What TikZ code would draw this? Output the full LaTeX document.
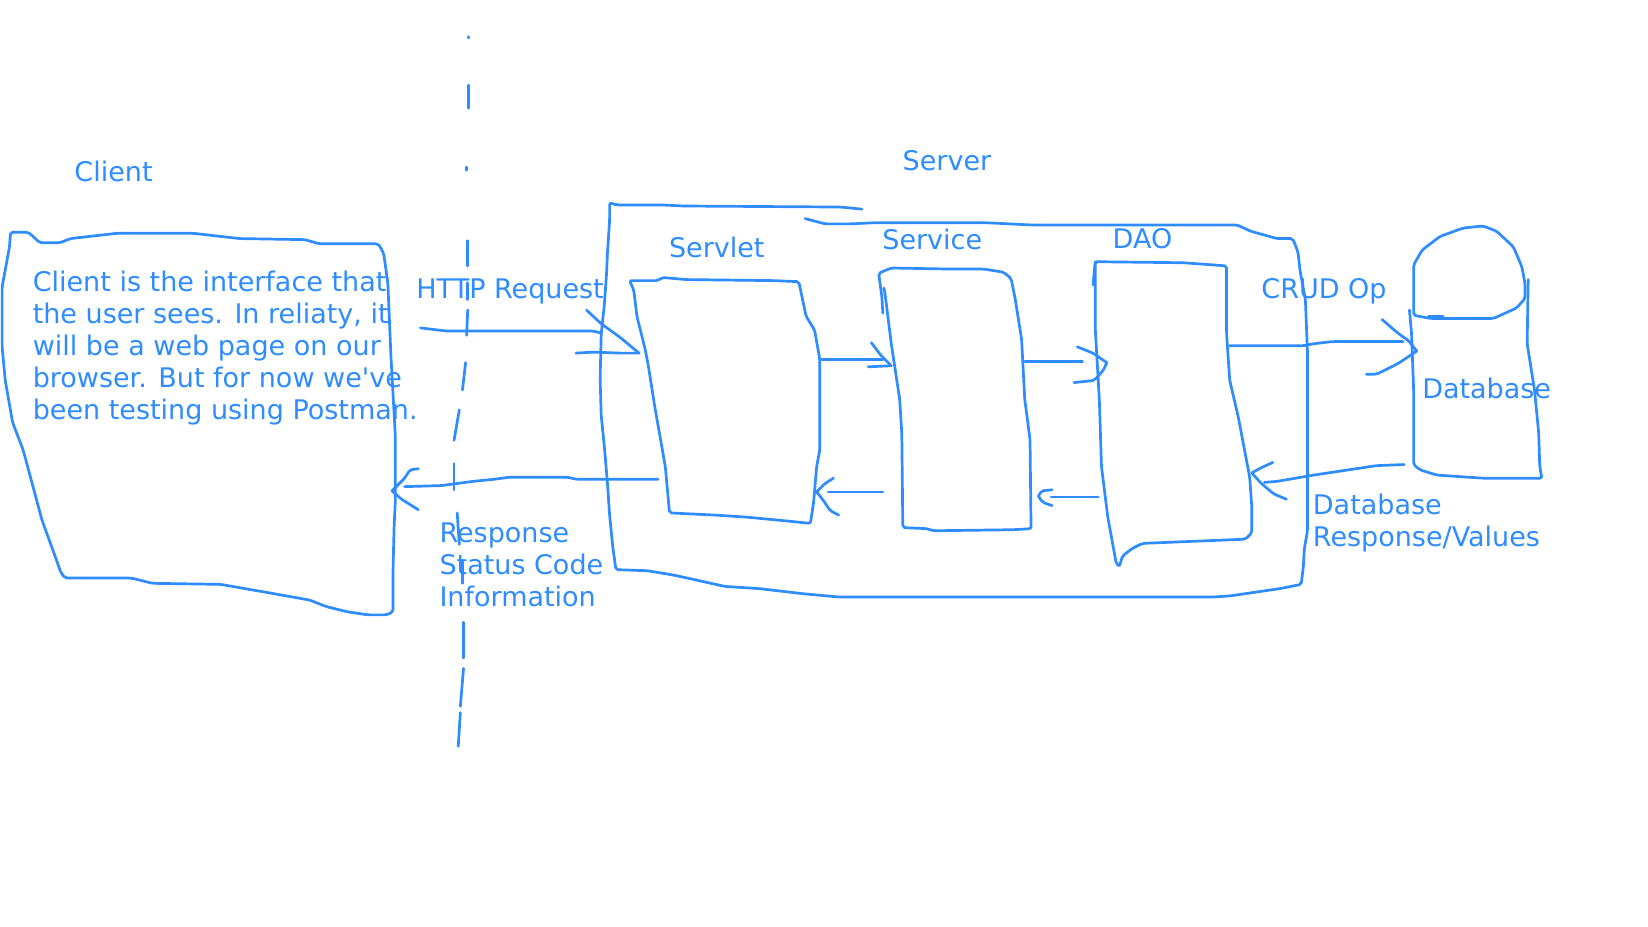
\documentclass[tikz,border=0pt]{standalone}
\usepackage{fontspec}
\setmainfont{DejaVu Sans}
\usepackage{tikz}
\usetikzlibrary{positioning}

\definecolor{penblue}{RGB}{46,140,255}
\tikzset{
	pen/.style={penblue, line width=2.7pt, line cap=round, line join=round, rounded corners=2pt},
	ink/.style={text=penblue, font=\fontsize{27}{32}\selectfont, inner sep=0pt, align=left}
}

\begin{document}
\begin{tikzpicture}[x=1.051pt, y=-1.051pt]
	\useasboundingbox (0,0) rectangle (1568,882);

	% labels
	\node[ink]	(client)	at	(108,163)	{Client};
	\node[ink]	(server)	at	(901,153)	{Server};
	\node[ink]	(servlet)	at	(682,235)	{Servlet};
	\node[ink]	(service)	at	(887,228)	{Service};
	\node[ink]	(dao)		at	(1087,227)	{DAO};
	\node[ink, anchor=west]	(note)		at	(31,331)	{Client is the interface that\\the user sees. In reliaty, it\\will be a web page on our\\browser. But for now we\textquotesingle ve\\been testing using Postman.};
	\node[ink, anchor=west]	(http)		at	(396,277)	{HTTP Request};
	\node[ink, anchor=west]	(resp)		at	(418,537)	{Response\\Status Code\\Information};
	\node[ink, anchor=west]	(crud)		at	(1200,277)	{CRUD Op};
	\node[ink, anchor=west]	(database)	at	(1353,370)	{Database};
	\node[ink, anchor=west]	(dbresp)	at	(1249,498)	{Database\\Response/Values};

	% client / server split
	\foreach \xa/\ya/\xb/\yb in {446/35/446/36, 446/81/446/103, 444/159/444/162, 445/229/445/253,
		445/269/445/285, 445/295/444/319, 443/345/440/371, 437/390/432/419, 432/441/432/466,
		435/488/437/518, 440/533/440/555, 441/592/441/626, 441/636/438/672, 438/678/436/710}
		\draw[pen] (\xa,\ya) -- (\xb,\yb);

	% client window
	\draw[pen] (10,221) -- (27,221) -- (38,231) -- (57,231) -- (67,227) -- (111,222) -- (184,222)
		-- (228,227) -- (290,228) -- (304,232) -- (360,232) -- (365,241) -- (369,269) -- (372,340)
		-- (376,412) -- (376,480) -- (375,500) -- (374,540) -- (374,582) -- (368,585) -- (350,585)
		-- (330,582) -- (310,577) -- (295,571) -- (250,563) -- (210,556) -- (145,555) -- (125,550)
		-- (62,550) -- (58,545) -- (52,528) -- (40,495) -- (22,428) -- (12,402) -- (5,362)
		-- (2,330) -- (2,273) -- (9,235) -- cycle;

	% server
	\draw[pen] (820,199) -- (800,197) -- (650,196) -- (630,195) -- (587,195) -- (580,193) -- (580,210)
		-- (578,240) -- (577,262) -- (575,290) -- (572,318) -- (571,360) -- (572,395) -- (575,425)
		-- (578,460) -- (580,490) -- (583,520) -- (586,542) -- (616,543) -- (640,547) -- (654,550)
		-- (690,558) -- (722,560) -- (765,565) -- (798,568) -- (1155,568) -- (1170,567) -- (1218,560)
		-- (1238,556) -- (1240,540) -- (1241,522) -- (1244,505) -- (1244,335) -- (1242,285)
		-- (1237,258) -- (1235,240) -- (1230,227) -- (1215,227) -- (1190,220) -- (1177,214)
		-- (980,214) -- (940,212) -- (830,212) -- (810,213) -- (785,213) -- (766,208);

	% servlet
	\draw[pen] (599,267) -- (626,267) -- (630,264) -- (653,266) -- (736,267) -- (760,268) -- (767,301)
		-- (775,314) -- (780,342) -- (780,428) -- (777,444) -- (774,479) -- (771,498) -- (752,496)
		-- (710,492) -- (679,490) -- (637,488) -- (633,444) -- (623,387) -- (617,349) -- (614,333)
		-- (606,301) -- (603,276) -- cycle;

	% service
	\draw[pen] (840,298) -- (839,282) -- (836,260) -- (848,255) -- (904,256) -- (936,256) -- (955,259)
		-- (962,265) -- (966,285) -- (972,323) -- (975,380) -- (980,418) -- (981,503) -- (964,504)
		-- (888,505) -- (882,503) -- (859,502) -- (858,412) -- (856,380) -- (848,327) -- (842,279)
		-- (841,274);

	% dao
	\draw[pen] (1040,271) -- (1042,249) -- (1126,250) -- (1167,253) -- (1167,317) -- (1170,362)
		-- (1178,396) -- (1189,454) -- (1191,482) -- (1191,507) -- (1185,513) -- (1087,517)
		-- (1077,522) -- (1068,529) -- (1065,539) -- (1062,536) -- (1054,492) -- (1048,444)
		-- (1046,381) -- (1042,311) -- (1042,249);

	% database
	\draw[pen] (1345,300) -- (1345,252) -- (1353,238) -- (1370,225) -- (1392,217) -- (1411,215)
		-- (1424,220) -- (1440,235) -- (1448,254) -- (1451,270) -- (1451,284) -- (1443,293)
		-- (1421,303) -- (1361,303) -- cycle;
	\draw[pen] (1359,301) -- (1373,301);
	\draw[pen] (1454,266) -- (1453,327) -- (1460,371) -- (1464,412) -- (1465,444) -- (1467,455)
		-- (1411,455) -- (1367,452) -- (1351,447) -- (1345,442) -- (1345,371) -- (1343,317)
		-- (1341,295);

	% arrow tips
	\coordinate (reqtip)	at	(608,336);
	\coordinate (svctip)	at	(848,348);
	\coordinate (daotip)	at	(1053,345);
	\coordinate (dbtip)		at	(1348,334);
	\coordinate (valtip)	at	(1191,450);
	\coordinate (backtip)	at	(988,472);
	\coordinate (rettip)	at	(777,468);
	\coordinate (resptip)	at	(373,467);

	% request path
	\draw[pen] (400,312) -- (425,315) -- (565,315) -- (572,317);
	\draw[pen] (reqtip) -- ++(-18,-15) -- ++(-18,-13) -- ++(-14,-13);
	\draw[pen] (reqtip) -- ++(-18,0) -- ++(-25,-1) -- ++(-17,1);

	\draw[pen] (782,342) -- (840,342);
	\draw[pen] (svctip) -- ++(-10,-10) -- ++(-9,-12);
	\draw[pen] (svctip) -- ++(-22,1);

	\draw[pen] (975,344) -- (1030,344);
	\draw[pen] (daotip) -- ++(-13,-9) -- ++(-15,-6);
	\draw[pen] (daotip) -- ++(-3,7) -- ++(-9,10) -- ++(-19,2);

	\draw[pen] (1170,329) -- (1240,329) -- (1250,327) -- (1268,325) -- (1335,325);
	\draw[pen] (dbtip) -- ++(-8,-10) -- ++(-10,-7) -- ++(-15,-13);
	\draw[pen] (dbtip) -- ++(-18,12) -- ++(-20,10) -- ++(-10,0);

	% response path
	\draw[pen] (1336,442) -- (1310,443) -- (1290,446) -- (1250,452) -- (1215,458) -- (1203,459);
	\draw[pen] (valtip) -- ++(9,-5) -- ++(11,-5);
	\draw[pen] (valtip) -- ++(9,10) -- ++(12,10) -- ++(12,5);

	\draw[pen] (1045,473) -- (1000,473);
	\draw[pen] (backtip) -- ++(3,-5) -- ++(10,-1);
	\draw[pen] (backtip) -- ++(4,6) -- ++(9,3);

	\draw[pen] (840,468) -- (788,468);
	\draw[pen] (rettip) -- ++(8,-8) -- ++(8,-5);
	\draw[pen] (rettip) -- ++(7,9) -- ++(6,9) -- ++(8,4);

	\draw[pen] (626,456) -- (548,456) -- (540,454) -- (485,454) -- (470,456) -- (450,458) -- (420,462)
		-- (385,463);
	\draw[pen] (resptip) -- ++(12,-12) -- ++(5,-8) -- ++(8,-1);
	\draw[pen] (resptip) -- ++(9,8) -- ++(16,10);
\end{tikzpicture}
\end{document}
